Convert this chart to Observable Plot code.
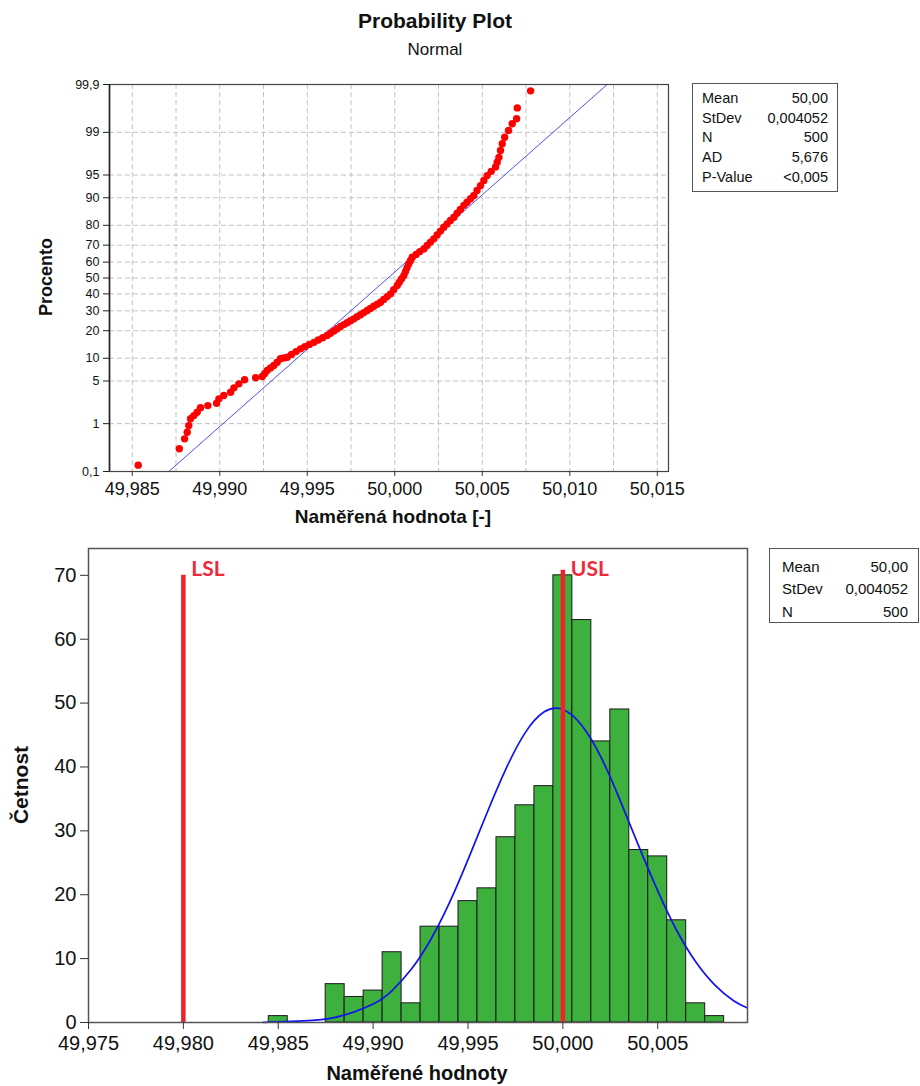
<!DOCTYPE html>
<html><head><meta charset="utf-8">
<script src="https://cdn.jsdelivr.net/npm/d3@7"></script>
<script src="https://cdn.jsdelivr.net/npm/@observablehq/plot@0.6"></script>
<style>
body{margin:0;background:#fff;width:920px;height:1086px;position:relative;overflow:hidden;font-family:"Liberation Sans",Arial,sans-serif;color:#111}
.abs{position:absolute}
.ttl{left:0;width:870px;text-align:center}
.box{border:1px solid #555;background:#fff;box-sizing:border-box}
.box table{border-collapse:collapse;width:100%}
.box td{padding:0;white-space:nowrap}
.box td.v{text-align:right}
.rot{transform:translate(-50%,-50%) rotate(-90deg);white-space:nowrap;font-weight:bold}
.ctr{transform:translate(-50%,-50%);white-space:nowrap;font-weight:bold}
</style></head><body>
<div class="abs ttl" style="top:9px;font-size:21px;font-weight:bold">Probability Plot</div>
<div class="abs ttl" style="top:40px;font-size:17px">Normal</div>
<div id="top" class="abs" style="left:0;top:0"></div>
<div id="hist" class="abs" style="left:0;top:530px"></div>
<div class="abs rot" style="left:46px;top:277px;font-size:18px">Procento</div>
<div class="abs ctr" style="left:393px;top:517px;font-size:19px">Naměřená hodnota [-]</div>
<div class="abs rot" style="left:21px;top:785px;font-size:21px">Četnost</div>
<div class="abs ctr" style="left:417px;top:1073px;font-size:20px">Naměřené hodnoty</div>
<div id="box1" class="abs box" style="left:692px;top:83px;width:146px;height:109px;padding:4px 9px 0 9px;font-size:14.5px"></div>
<div id="box2" class="abs box" style="left:769px;top:548px;width:150px;height:75px;padding:6px 10px 0 12px;font-size:15px"></div>
<script>
// ---------- Probability plot data ----------
const probX = [49.98534, 49.98769, 49.98799, 49.98814, 49.98823, 49.98833, 49.98852, 49.98871, 49.98890, 49.98932,
  49.98982, 49.98995, 49.99023, 49.99062, 49.99081, 49.99109, 49.99142, 49.99205, 49.99243, 49.99257,
  49.99271, 49.99290, 49.99309, 49.99328, 49.99347, 49.99366, 49.99386, 49.99410, 49.99436, 49.99462,
  49.99486, 49.99512, 49.99538, 49.99563, 49.99588, 49.99614, 49.99633, 49.99652, 49.99671, 49.99690,
  49.99709, 49.99728, 49.99747, 49.99766, 49.99785, 49.99804, 49.99823, 49.99843, 49.99861, 49.99880,
  49.99900, 49.99919, 49.99937, 49.99957, 49.99976, 49.99994, 50.00014, 50.00026, 50.00039, 50.00052,
  50.00061, 50.00070, 50.00080, 50.00090, 50.00100, 50.00122, 50.00143, 50.00166, 50.00185, 50.00204,
  50.00223, 50.00242, 50.00261, 50.00280, 50.00299, 50.00318, 50.00338, 50.00356, 50.00375, 50.00395,
  50.00413, 50.00433, 50.00452, 50.00470, 50.00490, 50.00509, 50.00528, 50.00551, 50.00576, 50.00585,
  50.00595, 50.00604, 50.00614, 50.00628, 50.00650, 50.00671, 50.00696, 50.00700, 50.00776];
const probPct = [0.14, 0.32, 0.51, 0.69, 0.92, 1.23, 1.40, 1.60, 1.91, 2.08,
  2.28, 2.68, 3.03, 3.41, 3.97, 4.55, 5.20, 5.55, 5.78, 6.36,
  6.97, 7.53, 8.11, 8.93, 9.84, 10.06, 10.3, 11.12, 11.99, 12.9,
  13.66, 14.44, 15.2, 16.1, 17.0, 17.9, 18.85, 19.86, 20.85, 21.9,
  22.83, 23.76, 24.76, 25.7, 26.82, 27.88, 29.02, 30.2, 31.36, 32.56,
  33.72, 34.9, 36.62, 38.32, 40.0, 42.59, 45.2, 47.33, 49.49, 51.6,
  54.07, 56.53, 59.0, 61.01, 63.0, 64.69, 66.34, 67.9, 69.82, 71.68,
  73.4, 75.44, 77.31, 79.1, 80.63, 82.08, 83.4, 84.93, 86.34, 87.7,
  88.70, 89.71, 90.6, 91.89, 93.0, 94.03, 94.9, 95.57, 96.2, 96.78,
  97.3, 97.92, 98.4, 98.77, 99.08, 99.31, 99.45, 99.67, 99.86];
const fitX = [49.98709, 50.01214];
const fitPct = [0.1, 99.9];
const pctTicks = [0.1, 1, 5, 10, 20, 30, 40, 50, 60, 70, 80, 90, 95, 99, 99.9];
const pctLabels = ["0,1", "1", "5", "10", "20", "30", "40", "50", "60", "70", "80", "90", "95", "99", "99,9"];
const topXTicks = [49.985, 49.990, 49.995, 50.000, 50.005, 50.010, 50.015];
const topXGrid = [49.985, 49.9875, 49.990, 49.9925, 49.995, 49.9975, 50.000, 50.0025, 50.005, 50.0075, 50.010, 50.0125, 50.015];
const topStatNames = ["Mean", "StDev", "N", "AD", "P-Value"];
const topStatValues = ["50,00", "0,004052", "500", "5,676", "<0,005"];

// ---------- Histogram data ----------
const binCenters = [49.985, 49.986, 49.987, 49.988, 49.989, 49.990, 49.991, 49.992, 49.993, 49.994, 49.995, 49.996,
  49.997, 49.998, 49.999, 50.000, 50.001, 50.002, 50.003, 50.004, 50.005, 50.006, 50.007, 50.008];
const binCounts = [1, 0, 0, 6, 4, 5, 11, 3, 15, 15, 19, 21, 29, 34, 37, 70, 63, 44, 49, 27, 26, 16, 3, 1];
const binWidth = 0.001;
const curveX = [49.9842, 49.9860, 49.9880, 49.9900, 49.9910, 49.9920, 49.9930, 49.9940, 49.9950, 49.9960, 49.9970,
  49.9980, 49.9990, 50.0000, 50.0010, 50.0020, 50.0030, 50.0040, 50.0050, 50.0060, 50.0070, 50.0080, 50.0090, 50.0097];
const curveY = [0.03, 0.2, 0.8, 2.9, 5.0, 8.3, 12.8, 18.6, 25.5, 32.8, 39.7,
  45.3, 48.6, 49.0, 46.5, 41.6, 34.9, 27.6, 20.6, 14.4, 9.5, 5.9, 3.4, 2.3];
const specNames = ["LSL", "USL"];
const specX = [49.980, 50.000];
const specTop = [70, 70.8];
const histXTicks = [49.975, 49.980, 49.985, 49.990, 49.995, 50.000, 50.005];
const histYTicks = [0, 10, 20, 30, 40, 50, 60, 70];
const histStatNames = ["Mean", "StDev", "N"];
const histStatValues = ["50,00", "0,004052", "500"];

// inverse standard normal CDF (probability-paper scale transform)
function probit(p) {
  const a=[-3.969683028665376e+01,2.209460984245205e+02,-2.759285104469687e+02,1.383577518672690e+02,-3.066479806614716e+01,2.506628277459239e+00];
  const b=[-5.447609879822406e+01,1.615858368580409e+02,-1.556989798598866e+02,6.680131188771972e+01,-1.328068155288572e+01];
  const c=[-7.784894002430293e-03,-3.223964580411365e-01,-2.400758277161838e+00,-2.549732539343734e+00,4.374664141464968e+00,2.938163982698783e+00];
  const d=[7.784695709041462e-03,3.224671290700398e-01,2.445134137142996e+00,3.754408661907416e+00];
  const pl = 0.02425, ph = 1 - pl;
  let q, r;
  if (p < pl) { q = Math.sqrt(-2*Math.log(p)); return (((((c[0]*q+c[1])*q+c[2])*q+c[3])*q+c[4])*q+c[5])/((((d[0]*q+d[1])*q+d[2])*q+d[3])*q+1); }
  if (p > ph) { q = Math.sqrt(-2*Math.log(1-p)); return -(((((c[0]*q+c[1])*q+c[2])*q+c[3])*q+c[4])*q+c[5])/((((d[0]*q+d[1])*q+d[2])*q+d[3])*q+1); }
  q = p - 0.5; r = q*q;
  return (((((a[0]*r+a[1])*r+a[2])*r+a[3])*r+a[4])*r+a[5])*q/(((((b[0]*r+b[1])*r+b[2])*r+b[3])*r+b[4])*r+1);
}
const pz = pct => probit(pct / 100);
const commaFmt = v => d3.format(".3f")(v).replace(".", ",");

const points = probX.map((x, i) => ({x, p: probPct[i]}));
const fit = fitX.map((x, i) => ({x, p: fitPct[i]}));
const yTickPos = pctTicks.map(pz);
const yLabel = v => pctLabels[yTickPos.findIndex(t => Math.abs(t - v) < 1e-9)];

const font = "'Liberation Sans', Arial, sans-serif";

const topChart = Plot.plot({
  width: 700, height: 540,
  marginTop: 84, marginRight: 32, marginBottom: 69, marginLeft: 109,
  style: {background: "transparent", fontFamily: font, color: "#111", overflow: "visible"},
  x: {type: "linear", domain: [49.98370, 50.01564]},
  y: {type: "linear", domain: [pz(0.1), pz(99.9)]},
  marks: [
    Plot.gridX(topXGrid, {stroke: "#c2c2c2", strokeOpacity: 1, strokeDasharray: "5,3"}),
    Plot.gridY(yTickPos, {stroke: "#c2c2c2", strokeOpacity: 1, strokeDasharray: "5,3"}),
    Plot.line(fit, {x: "x", y: d => pz(d.p), stroke: "#3a3aff", strokeWidth: 0.9}),
    Plot.dot(points, {x: "x", y: d => pz(d.p), r: 3.7, fill: "#ff0000", stroke: "none"}),
    Plot.frame({stroke: "#444", strokeWidth: 1.2}),
    Plot.axisX(topXTicks, {tickFormat: commaFmt, fontSize: 18, tickSize: 5, tickPadding: 6, label: null, stroke: "#333"}),
    Plot.axisY(yTickPos, {tickFormat: yLabel, fontSize: 12.5, tickSize: 6, tickPadding: 4, label: null, stroke: "#222"}),
    Plot.ruleX([49.98370], {stroke: "#222", strokeWidth: 1.6})
  ]
});
document.getElementById("top").appendChild(topChart);

const bins = binCenters.map((c, i) => ({x1: c - binWidth/2, x2: c + binWidth/2, n: binCounts[i]})).filter(d => d.n > 0);
const curve = curveX.map((x, i) => ({x, y: curveY[i]}));
const specs = specNames.map((name, i) => ({name, x: specX[i], top: specTop[i]}));

const histChart = Plot.plot({
  width: 920, height: 556,
  marginTop: 18, marginRight: 173, marginBottom: 64, marginLeft: 88,
  style: {background: "transparent", fontFamily: font, color: "#111", overflow: "visible"},
  x: {type: "linear", domain: [49.975, 50.00973]},
  y: {type: "linear", domain: [0, 74.2]},
  marks: [
    Plot.rectY(bins, {x1: "x1", x2: "x2", y: "n", fill: "#3db03d", stroke: "#1a1a1a", strokeWidth: 1}),
    Plot.line(curve, {x: "x", y: "y", stroke: "#1212ee", strokeWidth: 1.7, curve: "natural"}),
    Plot.ruleX(specs, {x: "x", y1: 0, y2: "top", stroke: "#ee2229", strokeWidth: 4.5}),
    Plot.text(specs, {x: "x", y: 70, text: "name", textAnchor: "start", lineAnchor: "bottom", dx: 8, dy: 1,
      fill: "#ee2a3a", fontSize: 21, fontWeight: "bold", fontFamily: "Lato, 'Open Sans', sans-serif"}),
    Plot.frame({stroke: "#555", strokeWidth: 1.5}),
    Plot.axisX(histXTicks, {tickFormat: commaFmt, fontSize: 20, tickSize: 7, tickPadding: 6, label: null, stroke: "#333"}),
    Plot.axisY(histYTicks, {fontSize: 20, tickSize: 8, tickPadding: 4, label: null, stroke: "#333"})
  ]
});
document.getElementById("hist").appendChild(histChart);

function fillBox(id, names, values, rowH) {
  const rows = names.map((n, i) => `<tr style="height:${rowH}px"><td>${n}</td><td class="v">${values[i]}</td></tr>`).join("");
  document.getElementById(id).innerHTML = `<table>${rows}</table>`;
}
fillBox("box1", topStatNames, topStatValues, 19.8);
fillBox("box2", histStatNames, histStatValues, 22.5);
</script>
</body></html>
